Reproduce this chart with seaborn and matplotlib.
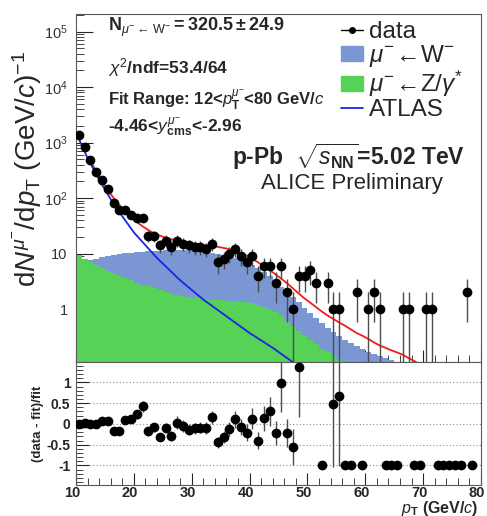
import numpy as np
import matplotlib
matplotlib.use("Agg")
import matplotlib.pyplot as plt
import matplotlib.transforms as mtransforms
import seaborn as sns
from matplotlib.lines import Line2D
from matplotlib.patches import Patch
from matplotlib.ticker import MultipleLocator, LogLocator, NullFormatter, FixedLocator, FixedFormatter

sns.set_style("ticks")
plt.rcParams["font.family"] = ["Liberation Sans", "DejaVu Sans"]
plt.rcParams["mathtext.fontset"] = "custom"
plt.rcParams["mathtext.rm"] = "Liberation Sans"
plt.rcParams["mathtext.it"] = "Liberation Sans:italic"
plt.rcParams["mathtext.bf"] = "Liberation Sans:bold"

# --- data ---
# measured spectrum (counts per GeV/c)
data_pt = [10.5, 11.5, 12.5, 13.5, 14.5, 15.5, 16.5, 17.5, 18.5, 19.5, 20.5, 21.5, 22.5, 23.5,
           24.5, 25.5, 26.5, 27.5, 28.5, 29.5, 30.5, 31.5, 32.5, 33.5, 34.5, 35.5, 36.5, 37.5,
           38.5, 39.5, 40.5, 41.5, 42.5, 43.5, 44.5, 45.5, 46.5, 47.5, 48.5, 49.5, 50.5, 51.5,
           53.5, 54.5, 55.5, 58.5, 60.5, 61.5, 62.5, 66.5, 67.5, 70.5, 71.5, 77.5]
data_val = [1365, 816, 480, 297, 211, 145, 80, 61, 61, 49, 44, 44, 21, 21,
            14, 17, 13, 17, 15, 14, 13, 13, 12, 15, 7, 8, 10, 12,
            9, 7, 9, 4, 6, 6, 3, 6, 2, 1, 4, 4, 5, 3,
            3, 1, 1, 2, 1, 2, 1, 1, 1, 1, 1, 2]

# histogram bins for templates
bin_edges = list(range(10, 81))
z_val = [9.5, 8.0, 7.0, 6.2, 5.5, 4.9, 4.4, 4.0, 3.6, 3.3, 3.0, 2.75, 2.55, 2.35, 2.2, 2.05,
         1.93, 1.82, 1.74, 1.66, 1.6, 1.55, 1.5, 1.47, 1.45, 1.43, 1.41, 1.39, 1.36, 1.32,
         1.27, 1.2, 1.1, 1.0, 0.88, 0.75, 0.62, 0.5, 0.41, 0.34, 0.28, 0.23, 0.19, 0.165,
         0.145, 0.125, 0.11]
wz_val = [9.5, 8.0, 7.6, 8.0, 8.5, 9.0, 9.4, 9.8, 10.1, 10.4, 10.6, 10.8, 11.0, 11.2, 11.3,
          11.4, 11.5, 11.5, 11.5, 11.4, 11.3, 11.1, 10.8, 10.4, 10.0, 9.5, 9.0, 8.4, 7.8, 7.1,
          6.3, 5.5, 4.7, 4.0, 3.3, 2.5, 2.05, 1.65, 1.32, 1.05, 0.85, 0.68, 0.55, 0.45, 0.38,
          0.32, 0.28, 0.245, 0.215, 0.19, 0.17, 0.155, 0.14, 0.13, 0.12, 0.11, 0.1]

# ATLAS-based background
atlas_pt = [10, 12, 14, 16, 18, 20, 24, 28, 32, 36, 40, 44, 47.5]
atlas_val = [1510, 525, 214, 95, 47, 24, 8.3, 3.3, 1.48, 0.74, 0.37, 0.20, 0.11]

# total fit
fit_pt = [12.5, 13.5, 14.5, 15.5, 16.5, 17.5, 18.5, 19.5, 20.5, 21.5, 22.5, 23.5, 24.5, 25.5,
          26.5, 27.5, 28.5, 29.5, 30.5, 31.5, 32.5, 33.5, 34.5, 35.5, 36.5, 37.5, 38.5, 39.5,
          40.5, 41.5, 42.5, 43.5, 44.5, 45.5, 46.5, 47.5, 48.5, 49.5, 50.5, 51.5, 52.5, 53.5,
          54.5, 55.5, 56.5, 57.5, 58.5, 59.5, 60.5, 61.5, 62.5, 63.5, 64.5, 65.5, 66.5, 67.5,
          68.5, 69.5]
fit_val = [470, 300, 200, 140, 100, 75, 57, 45, 37, 31, 26.5, 23, 21, 19.3,
           18, 17, 16.2, 15.6, 15.1, 14.6, 14.2, 13.7, 13.2, 12.6, 12.0, 11.2, 10.2, 9.1,
           8.0, 6.9, 5.9, 5.0, 4.2, 3.5, 2.9, 2.35, 1.9, 1.55, 1.3, 1.08, 0.9, 0.76,
           0.66, 0.57, 0.5, 0.43, 0.37, 0.33, 0.29, 0.25, 0.22, 0.2, 0.18, 0.165, 0.15, 0.13,
           0.115, 0.1]

# (data - fit)/fit
ratio_pt = [10.5, 11.5, 12.5, 13.5, 14.5, 15.5, 16.5, 17.5, 18.5, 19.5, 20.5, 21.5, 22.5, 23.5,
            24.5, 25.5, 26.5, 27.5, 28.5, 29.5, 30.5, 31.5, 32.5, 33.5, 34.5, 35.5, 36.5, 37.5,
            38.5, 39.5, 40.5, 41.5, 42.5, 43.5, 44.5, 45.5, 46.5, 47.5, 48.5, 52.5, 54.5, 55.5,
            56.5, 57.5, 59.5, 63.5, 64.5, 65.5, 68.5, 69.5, 72.5, 73.5, 74.5, 75.5, 76.5, 78.5]
ratio_val = [0.0, 0.03, -0.01, -0.01, 0.06, 0.06, -0.18, -0.18, 0.1, 0.13, 0.23, 0.42, -0.18, -0.08,
             -0.32, -0.1, -0.28, 0.03, -0.05, -0.14, -0.11, -0.09, -0.1, 0.16, -0.44, -0.32, -0.12, 0.11,
             -0.08, -0.21, 0.13, -0.4, 0.14, 0.3, -0.22, 0.99, -0.22, -0.56, 1.36, -1, 0.47, 0.68,
             -1, -1, -1, -1, -1, -1, -1, -1, -1, -1, -1, -1, -1, -1]
ratio_err = [0.02, 0.02, 0.02, 0.02, 0.02, 0.02, 0.04, 0.04, 0.07, 0.08, 0.1, 0.14, 0.1, 0.11,
             0.1, 0.12, 0.12, 0.16, 0.15, 0.13, 0.14, 0.14, 0.15, 0.16, 0.13, 0.14, 0.16, 0.2,
             0.19, 0.2, 0.26, 0.2, 0.3, 0.34, 0.28, 0.7, 0.33, 0.44, 1.2, 0, 1.5, 1.7,
             0, 0, 0, 0, 0, 0, 0, 0, 0, 0, 0, 0, 0, 0]

c_w = "#7b97d3"
c_z = "#56d257"
c_atlas = "#1c24e6"
c_fit = "#f21c1c"

W, H = 487, 516
fig = plt.figure(figsize=(W / 100, H / 100), dpi=100)
fx = lambda px: px / W
fy = lambda py: 1 - py / H

ax = fig.add_axes([fx(76), fy(362), fx(481) - fx(76), fy(14) - fy(362)])
axr = fig.add_axes([fx(76), fy(485), fx(481) - fx(76), fy(362) - fy(485)])

# --- top panel ---
ax.set_yscale("log")
centers = [e + 0.5 for e in bin_edges[:-1]]
sns.histplot(x=centers[:len(wz_val)], weights=wz_val, bins=bin_edges, element="step",
             fill=True, color=c_w, alpha=1, linewidth=0, ax=ax)
sns.histplot(x=centers[:len(z_val)], weights=z_val, bins=bin_edges, element="step",
             fill=True, color=c_z, alpha=1, linewidth=0, ax=ax)
sns.lineplot(x=fit_pt, y=fit_val, color=c_fit, lw=1.3, ax=ax)
sns.lineplot(x=atlas_pt, y=atlas_val, color=c_atlas, lw=1.3, ax=ax)
dv = np.array(data_val, dtype=float)
ax.errorbar(data_pt, dv, yerr=np.sqrt(dv), fmt="o", color="black", ms=6,
            ecolor="0.3", elinewidth=1.0, capsize=0, zorder=5)
ax.set_xlim(10, 80)
ax.set_ylim(0.111, 2.07e5)
ax.set_xlabel("")
ax.set_ylabel("")
ax.xaxis.set_major_locator(MultipleLocator(10))
ax.xaxis.set_minor_locator(MultipleLocator(2))
ax.tick_params(axis="x", which="both", direction="in", labelbottom=False)
ax.tick_params(axis="x", which="major", length=9)
ax.tick_params(axis="x", which="minor", length=5)
ax.yaxis.set_major_locator(FixedLocator([1, 10, 100, 1e3, 1e4, 1e5]))
ax.yaxis.set_major_formatter(FixedFormatter(["1", "10", r"$10^{2}$", r"$10^{3}$", r"$10^{4}$", r"$10^{5}$"]))
ax.yaxis.set_minor_locator(LogLocator(base=10, subs=np.arange(2, 10), numticks=20))
ax.yaxis.set_minor_formatter(NullFormatter())
ax.tick_params(axis="y", which="both", direction="in", labelsize=10.5, labelcolor="0.2", pad=6)
ax.tick_params(axis="y", which="major", length=12)
ax.tick_params(axis="y", which="minor", length=6)
for s in ax.spines.values():
    s.set_color("0.35")

handles = [Line2D([0], [0], marker="o", color="black", ms=4, lw=1),
           Patch(color=c_w), Patch(color=c_z),
           Line2D([0], [0], color=c_atlas, lw=1.3)]
labels = ["data", r"$\mu^{-}\!\leftarrow\!\mathrm{W}^{-}$", r"$\mu^{-}\!\leftarrow\!\mathrm{Z}/\gamma^{*}$", "ATLAS"]
ax.legend(handles, labels, loc="upper left", bbox_to_anchor=(0.625, 1.015), frameon=False,
          fontsize=17.5, handlelength=0.9, handleheight=0.6, labelspacing=0.0,
          handletextpad=0.25, borderaxespad=0.1)

fig.text(fx(108), fy(27), r"$\mathbf{N}_{\mu^{-}\leftarrow\,\mathrm{W}^{-}}\mathbf{=320.5\pm24.9}$",
         fontsize=13, fontweight="bold", va="center")
fig.text(fx(108), fy(68), r"$\chi^{2}$/ndf=53.4/64", fontsize=12.5, fontweight="bold", va="center")
fig.text(fx(108), fy(100), r"Fit Range: 12<$\mathbf{\mathit{p}}_{\mathbf{T}}^{\mu^{-}}$<80 GeV/$\mathit{c}$",
         fontsize=12, fontweight="bold", va="center")
fig.text(fx(108), fy(127), r"-4.46<$\mathit{y}_{\mathbf{cms}}^{\mu^{-}}$<-2.96",
         fontsize=12.5, fontweight="bold", va="center")
fig.text(fx(232), fy(157), r"p-Pb  $\sqrt{\mathit{s}_{\mathbf{NN}}}$=5.02 TeV",
         fontsize=16.5, fontweight="bold", va="center")
fig.text(fx(352), fy(183), "ALICE Preliminary", fontsize=16, ha="center", va="center")

fig.text(fx(27), fy(169), r"d$N^{\mu^{-}}$/d$p_{\rm T}$ (GeV/$c$)$^{-1}$", fontsize=20,
         rotation=90, ha="center", va="center")

# --- ratio panel ---
for g in [1, 0.5, 0, -0.5, -1]:
    axr.axhline(g, color="0.55", lw=0.8, ls=(0, (1, 2)), zorder=0)
axr.errorbar(ratio_pt, ratio_val, yerr=ratio_err, fmt="o", color="black", ms=6,
             ecolor="0.3", elinewidth=1.0, capsize=0, zorder=5)
axr.set_xlim(10, 80)
axr.set_ylim(-1.47, 1.49)
axr.xaxis.set_major_locator(MultipleLocator(10))
axr.xaxis.set_minor_locator(MultipleLocator(2))
axr.yaxis.set_major_locator(FixedLocator([-1, -0.5, 0, 0.5, 1]))
axr.yaxis.set_major_formatter(FixedFormatter(["-1", "-0.5", "0", "0.5", "1"]))
axr.yaxis.set_minor_locator(MultipleLocator(0.1))
axr.tick_params(axis="both", which="both", direction="in")
axr.tick_params(axis="x", which="major", length=9, labelsize=10.5, pad=0.5)
axr.tick_params(axis="x", which="minor", length=5)
axr.tick_params(axis="y", which="major", length=9, labelsize=10, pad=4)
axr.tick_params(axis="y", which="minor", length=5)
shift = mtransforms.ScaledTranslation(-4 / 100, 0, fig.dpi_scale_trans)
for lab in axr.get_xticklabels():
    lab.set_fontweight("bold")
    lab.set_transform(lab.get_transform() + shift)
for lab in axr.get_yticklabels():
    lab.set_fontweight("bold")
for s in axr.spines.values():
    s.set_color("0.35")
fig.text(fx(478), fy(508), r"$\mathbf{\mathit{p}}_{\mathbf{T}}$ (GeV/$\mathit{c}$)", fontsize=11.5,
         fontweight="bold", ha="right", va="center")
fig.text(fx(38), fy(424), "(data - fit)/fit", fontsize=9.5, fontweight="bold",
         rotation=90, ha="center", va="center")

fig.savefig("out.png", dpi=100)
